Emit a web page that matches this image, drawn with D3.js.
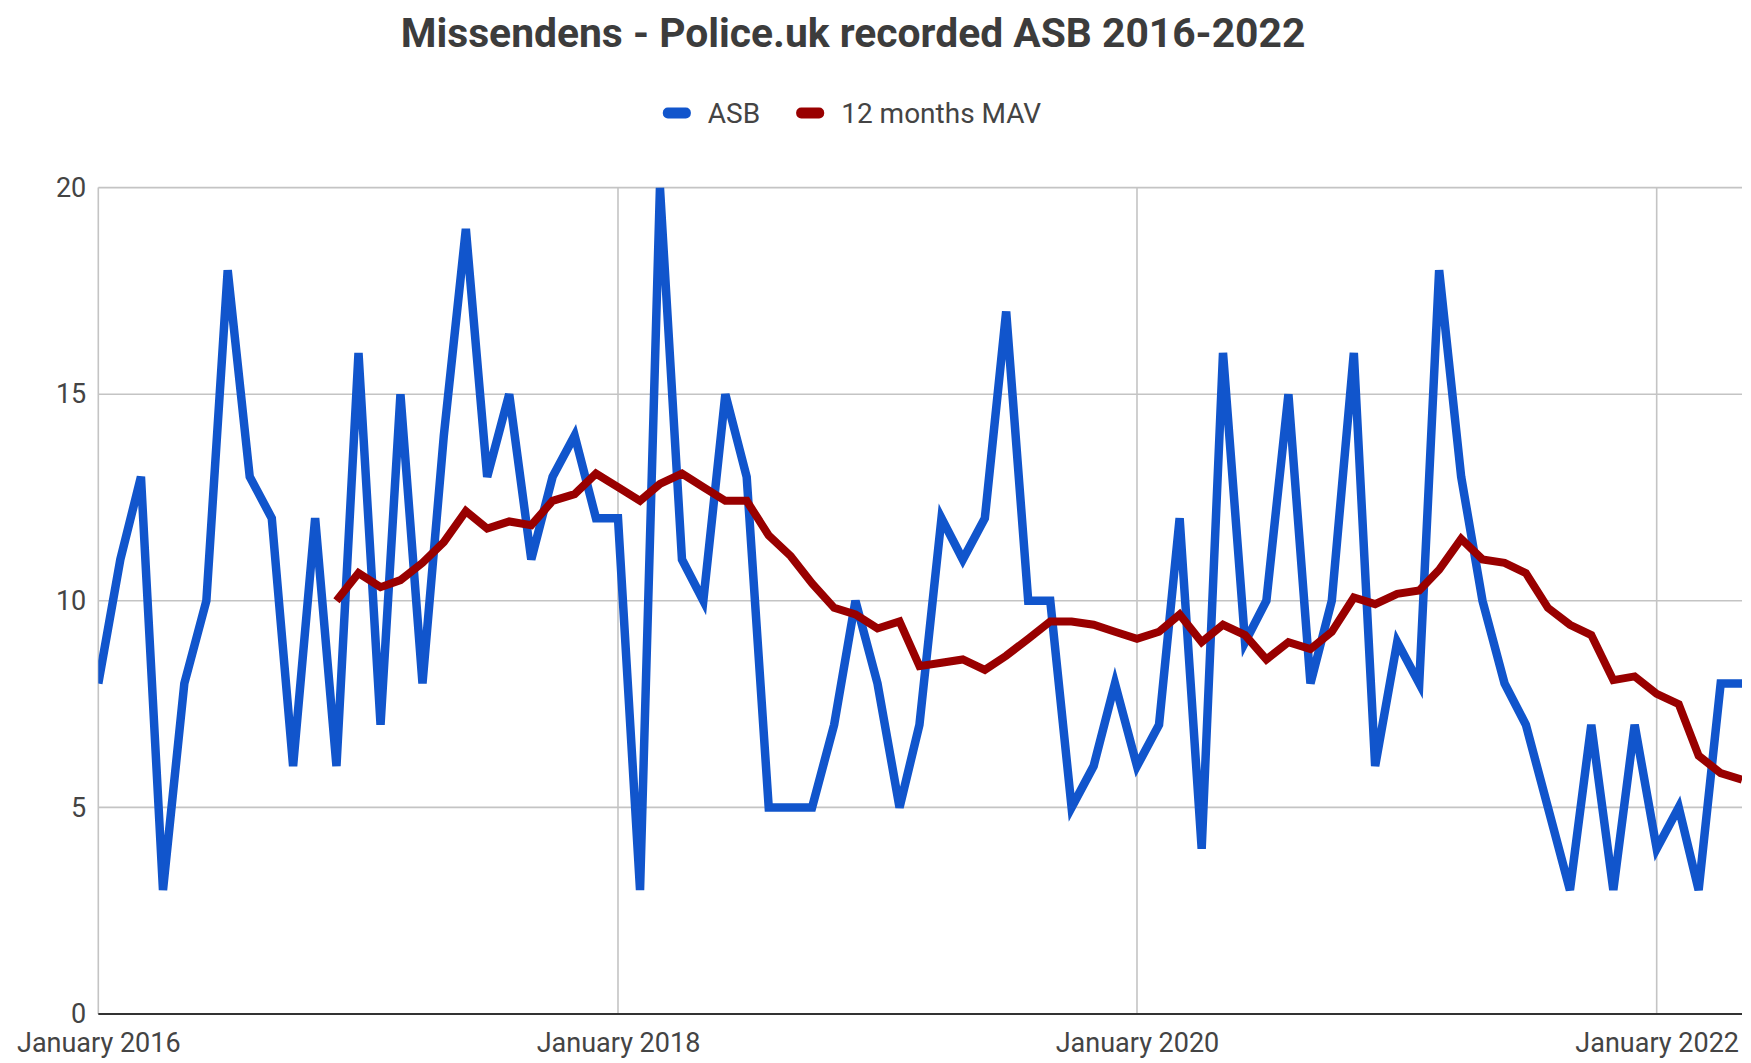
<!DOCTYPE html>
<html>
<head>
<meta charset="utf-8">
<script src="https://cdn.jsdelivr.net/npm/d3@7"></script>
<style>
  html, body { margin: 0; padding: 0; background: #fff; }
  svg { display: block; font-family: Roboto, "Noto Sans", sans-serif; }
</style>
</head>
<body>
<div id="chart"></div>
<script>
const months = [
    "2016-01", "2016-02", "2016-03", "2016-04", "2016-05", "2016-06", "2016-07", "2016-08", "2016-09", "2016-10", "2016-11", "2016-12",
    "2017-01", "2017-02", "2017-03", "2017-04", "2017-05", "2017-06", "2017-07", "2017-08", "2017-09", "2017-10", "2017-11", "2017-12",
    "2018-01", "2018-02", "2018-03", "2018-04", "2018-05", "2018-06", "2018-07", "2018-08", "2018-09", "2018-10", "2018-11", "2018-12",
    "2019-01", "2019-02", "2019-03", "2019-04", "2019-05", "2019-06", "2019-07", "2019-08", "2019-09", "2019-10", "2019-11", "2019-12",
    "2020-01", "2020-02", "2020-03", "2020-04", "2020-05", "2020-06", "2020-07", "2020-08", "2020-09", "2020-10", "2020-11", "2020-12",
    "2021-01", "2021-02", "2021-03", "2021-04", "2021-05", "2021-06", "2021-07", "2021-08", "2021-09", "2021-10", "2021-11", "2021-12",
    "2022-01", "2022-02", "2022-03", "2022-04", "2022-05"
]

// monthly ASB counts
const asb = [
    8, 11, 13, 3, 8, 10, 18, 13, 12, 6, 12, 6,
    16, 7, 15, 8, 14, 19, 13, 15, 11, 13, 14, 12,
    12, 3, 20, 11, 10, 15, 13, 5, 5, 5, 7, 10,
    8, 5, 7, 12, 11, 12, 17, 10, 10, 5, 6, 8,
    6, 7, 12, 4, 16, 9, 10, 15, 8, 10, 16, 6,
    9, 8, 18, 13, 10, 8, 7, 5, 3, 7, 3, 7,
    4, 5, 3, 8, 8
]

// 12 months moving average, starts in December 2016
const mav = [
    null, null, null, null, null, null, null, null, null, null, null, 10.0,
    10.67, 10.33, 10.5, 10.92, 11.42, 12.17, 11.75, 11.92, 11.83, 12.42, 12.58, 13.08,
    12.75, 12.42, 12.83, 13.08, 12.75, 12.42, 12.42, 11.58, 11.08, 10.42, 9.83, 9.67,
    9.33, 9.5, 8.42, 8.5, 8.58, 8.33, 8.67, 9.08, 9.5, 9.5, 9.42, 9.25,
    9.08, 9.25, 9.67, 9.0, 9.42, 9.17, 8.58, 9.0, 8.83, 9.25, 10.08, 9.92,
    10.17, 10.25, 10.75, 11.5, 11.0, 10.92, 10.67, 9.83, 9.42, 9.17, 8.08, 8.17,
    7.75, 7.5, 6.25, 5.83, 5.67
]

const seriesNames = ["ASB", "12 months MAV"]
const seriesColors = ["#1155cc", "#990000"]
const yTicks = [0, 5, 10, 15, 20]
const xTickMonths = ["2016-01", "2018-01", "2020-01", "2022-01"]
const xTickLabels = ["January 2016", "January 2018", "January 2020", "January 2022"]
const title = "Missendens - Police.uk recorded ASB 2016-2022"

const W = 1751, H = 1063
const margin = { top: 187.6, right: 9, bottom: 49, left: 98.3 }
const textColor = "#444"

const parse = d3.timeParse("%Y-%m")
const dates = months.map(parse)

const x = d3.scaleTime().domain(d3.extent(dates)).range([margin.left, W - margin.right])
const y = d3.scaleLinear().domain([0, 20]).range([H - margin.bottom, margin.top])

const svg = d3.select("#chart").append("svg").attr("width", W).attr("height", H)
svg.append("rect").attr("width", W).attr("height", H).attr("fill", "#fff")

svg.append("clipPath").attr("id", "plot_clip")
    .append("rect")
    .attr("x", margin.left).attr("y", margin.top)
    .attr("width", W - margin.right - margin.left).attr("height", y(0) - margin.top)

// grid
const grid = svg.append("g").attr("class", "grid")
grid.selectAll("line.h").data(yTicks.filter(d => d !== 0)).enter().append("line").attr("class", "h")
    .attr("x1", margin.left).attr("x2", W - margin.right)
    .attr("y1", d => y(d)).attr("y2", d => y(d))
    .attr("stroke", "#c4c4c4").attr("stroke-width", 1.6)
grid.selectAll("line.v").data(xTickMonths.map(parse)).enter().append("line").attr("class", "v")
    .attr("x1", d => x(d)).attr("x2", d => x(d))
    .attr("y1", y(20)).attr("y2", y(0))
    .attr("stroke", "#c4c4c4").attr("stroke-width", 1.6)

// axes
const yAxis = svg.append("g").attr("transform", `translate(${margin.left},0)`)
    .call(d3.axisLeft(y).tickValues(yTicks).tickSize(0).tickPadding(12))
yAxis.select(".domain").remove()
yAxis.selectAll("text").attr("font-size", 27).attr("fill", textColor).style("font-family", "Roboto")

const xAxis = svg.append("g").attr("transform", `translate(0,${y(0)})`)
    .call(d3.axisBottom(x).tickValues(xTickMonths.map(parse)).tickFormat((d, i) => xTickLabels[i]).tickSize(0).tickPadding(19))
xAxis.select(".domain").remove()
xAxis.selectAll("text").attr("font-size", 27).attr("fill", textColor).style("font-family", "Roboto")

// series
const rows = dates.map((d, i) => ({ date: d, asb: asb[i], mav: mav[i] }))
const lines = svg.append("g").attr("clip-path", "url(#plot_clip)")
const keys = ["asb", "mav"]
const widths = [8.5, 8]
keys.forEach((k, i) => {
    const line = d3.line().defined(d => d[k] != null).x(d => x(d.date)).y(d => y(d[k]))
    lines.append("path").datum(rows)
        .attr("fill", "none").attr("stroke", seriesColors[i]).attr("stroke-width", widths[i])
        .attr("stroke-linejoin", "miter").attr("d", line)
})

// baseline
svg.append("line")
    .attr("x1", margin.left).attr("x2", W - margin.right)
    .attr("y1", y(0)).attr("y2", y(0))
    .attr("stroke", "#333").attr("stroke-width", 2)

// title
svg.append("text")
    .attr("x", 853).attr("y", 47).attr("text-anchor", "middle")
    .attr("font-size", 40.8).attr("font-weight", "bold").attr("fill", "#3c3c3c")
    .text(title)

// legend
const legend = svg.append("g").attr("class", "legend")
const items = legend.selectAll("g").data(seriesNames).enter().append("g")
items.append("rect").attr("width", 28).attr("height", 11).attr("rx", 5).attr("y", -5.5)
    .attr("fill", (d, i) => seriesColors[i])
items.append("text").attr("x", 45).attr("dy", "0.35em")
    .attr("font-size", 28).attr("fill", textColor).text(d => d)
let offset = 0
items.each(function () {
    d3.select(this).attr("transform", `translate(${offset},0)`)
    offset += 45 + this.querySelector("text").getComputedTextLength() + 36
})
const legendWidth = offset - 36
legend.attr("transform", `translate(${852 - legendWidth / 2},113)`)
</script>
</body>
</html>
